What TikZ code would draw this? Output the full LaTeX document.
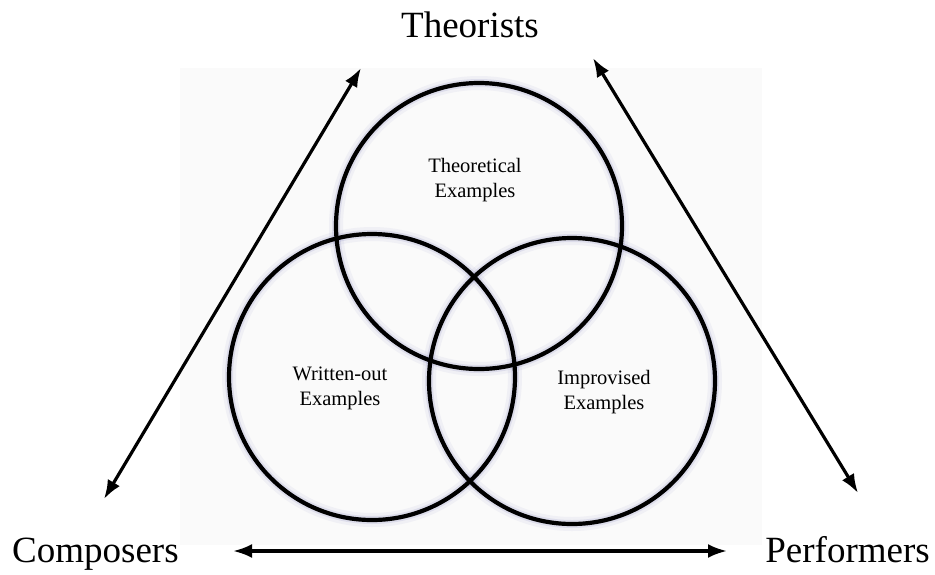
\documentclass[tikz,border=0pt]{standalone}
\usepackage{fontspec}
\setmainfont{Liberation Serif}
\usetikzlibrary{arrows.meta}
\begin{document}
\begin{tikzpicture}[x=1pt,y=-1pt,
  venn/.style={circle,minimum size=286pt,inner sep=0pt,draw=black,line width=4.2pt},
  glowA/.style={circle,minimum size=286pt,inner sep=0pt,draw=blue!30!gray,line width=14pt,draw opacity=0.06},
  glowB/.style={circle,minimum size=286pt,inner sep=0pt,draw=blue!30!gray,line width=8pt,draw opacity=0.12},
  biglabel/.style={font=\fontsize{37}{44}\selectfont,inner sep=0pt},
  inlabel/.style={font=\fontsize{20.5}{25}\selectfont,align=center,inner sep=0pt},
  rel/.style={{Latex[length=19pt,width=14pt]}-{Latex[length=19pt,width=14pt]},line width=3.2pt}]
\useasboundingbox (0,0) rectangle (935,574);
\fill[black!2] (180,68) rectangle (762,545);
% glows
\foreach \c in {(479,226),(372,377),(572,381)}{
  \node[glowA] at \c {};
  \node[glowB] at \c {};
}
\node[venn] (theo) at (479,226) {};
\node[venn] (writ) at (372,377) {};
\node[venn] (impr) at (572,381) {};
\node[inlabel] (tlab) at (475,180) {Theoretical\\Examples};
\node[inlabel] (wlab) at (340,388) {Written-out\\Examples};
\node[inlabel] (ilab) at (604,392) {Improvised\\Examples};
\node[biglabel,anchor=base] (T) at (470,37) {Theorists};
\node[biglabel,anchor=base west] (C) at (12,562) {Composers};
\node[biglabel,anchor=base east] (P) at (930,562) {Performers};
\coordinate (a1) at (104,499);
\coordinate (a2) at (361,68);
\coordinate (b1) at (593,58);
\coordinate (b2) at (858,493);
\coordinate (c1) at (233,551);
\coordinate (c2) at (727,551);
\draw[rel] (a1) -- (a2);
\draw[rel] (b1) -- (b2);
\draw[rel] (c1) -- (c2);
\end{tikzpicture}
\end{document}
